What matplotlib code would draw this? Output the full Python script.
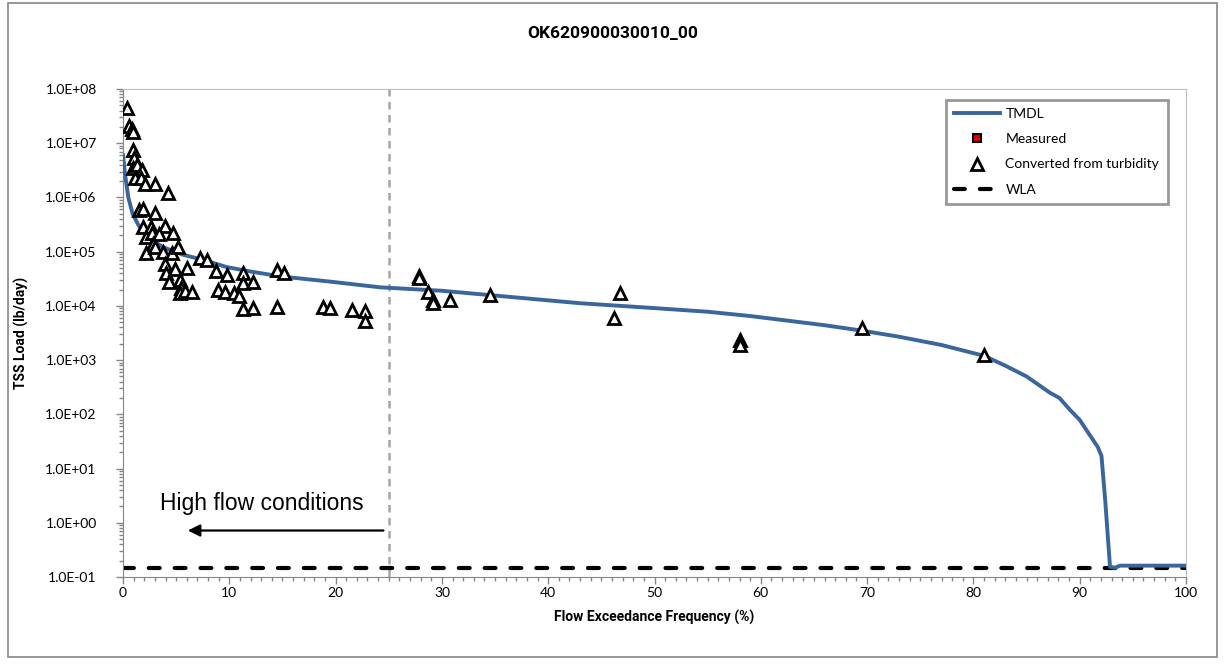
import numpy as np
import matplotlib
matplotlib.use("Agg")
import matplotlib.pyplot as plt
from matplotlib.ticker import FixedLocator, FuncFormatter, MultipleLocator
from matplotlib.patches import Rectangle

plt.rcParams['font.family'] = ['Lato', 'DejaVu Sans']
negrito = ['Roboto', 'DejaVu Sans']

############ DATA
titulo = "OK620900030010_00"

# TMDL curve
tmdl_x = [0, 0.2, 0.5, 0.9, 1.45, 2.2, 3.8, 5.7, 7.5, 9.75, 12, 14.8, 19.5, 24.2,
          30, 35, 43, 50, 55, 59, 62, 66, 69.5, 73, 77, 81, 83, 85, 87.2, 88.1,
          89.1, 90, 91, 91.7, 92.05, 92.4, 92.85, 93.3, 93.8, 100]
tmdl_y = [6.0e6, 2.6e6, 1.0e6, 5.0e5, 3.1e5, 1.9e5, 1.2e5, 8.7e4, 7.1e4, 5.2e4,
          4.3e4, 3.5e4, 2.8e4, 2.2e4, 1.9e4, 1.55e4, 1.12e4, 9.1e3, 7.8e3, 6.5e3,
          5.5e3, 4.4e3, 3.5e3, 2.7e3, 1.9e3, 1.2e3, 7.9e2, 5.0e2, 2.5e2, 2.0e2,
          1.2e2, 79, 40, 25, 17, 2.6, 0.155, 0.148, 0.162, 0.162]

# converted from turbidity
turb_x = [0.35, 0.6, 0.85, 0.9, 0.97, 1.03, 0.9, 1.35, 1.76, 1.13, 1.66, 2.07, 3.0, 4.26,
          1.54, 1.91, 3.0, 1.91, 2.6, 3.95, 2.2, 2.7, 3.4, 4.67, 2.85, 2.2, 3.0, 3.8,
          4.58, 5.2, 3.95, 4.05, 4.9, 6.0, 4.35, 5.36, 5.5, 5.4, 5.8, 6.46, 7.2, 7.9,
          8.75, 8.97, 9.6, 9.8, 10.4, 10.9, 11.26, 11.26, 12.2, 11.26, 12.26, 14.46,
          15.1, 14.46, 18.8, 19.5, 21.5, 22.8, 22.8, 27.8, 27.8, 28.7, 29.2, 29.2,
          30.8, 34.5, 46.8, 46.2, 58.0, 58.0, 69.5, 81.0]
turb_y = [4.4e7, 2.1e7, 1.8e7, 1.6e7, 7.4e6, 5.3e6, 3.5e6, 4.0e6, 3.2e6, 2.3e6, 2.3e6,
          1.8e6, 1.8e6, 1.2e6, 5.9e5, 6.0e5, 5.2e5, 2.9e5, 2.9e5, 3.0e5, 1.9e5, 2.2e5,
          2.1e5, 2.2e5, 1.4e5, 9.5e4, 1.2e5, 1.0e5, 9.3e4, 1.2e5, 6.0e4, 4.0e4, 4.8e4,
          5.1e4, 2.7e4, 3.0e4, 2.1e4, 1.7e4, 1.9e4, 1.8e4, 7.6e4, 7.0e4, 4.4e4, 2.0e4,
          1.8e4, 3.7e4, 1.7e4, 1.5e4, 4.0e4, 2.6e4, 2.8e4, 8.9e3, 9.3e3, 4.5e4, 4.0e4,
          9.5e3, 9.5e3, 9.2e3, 8.5e3, 8.0e3, 5.2e3, 3.5e4, 3.2e4, 1.8e4, 1.3e4, 1.15e4,
          1.3e4, 1.6e4, 1.7e4, 5.9e3, 2.3e3, 1.9e3, 3.9e3, 1.25e3]

# measured (no samples in this chart)
medido_x = []
medido_y = []

wla = 0.145
limite_alto = 25

############ FIGURA
fig = plt.figure(figsize=(12.25, 6.64), dpi=100)
ax = fig.add_axes([123/1225, 1-577/664, (1186-123)/1225, (577-89)/664])

# moldura do grafico
fig.patches.append(Rectangle((8/1225, 1-657/664), (1217-8)/1225, (657-3)/664,
                             transform=fig.transFigure, fill=False,
                             edgecolor='#868686', lw=1.2))

ax.plot(tmdl_x, tmdl_y, color='#3A669C', lw=2.8, label='TMDL', zorder=3)
ax.plot(medido_x, medido_y, ls='none', marker='s', ms=6, mfc='#E00000',
        mec='black', mew=1.5, label='Measured')
ax.plot(turb_x, turb_y, ls='none', marker='^', ms=9, mfc='white',
        mec='black', mew=2, label='Converted from turbidity', zorder=4)
ax.plot([0, 100], [wla, wla], color='black', lw=3, ls=(0, (2.6, 3.6)),
        dash_capstyle='round', label='WLA', zorder=2)

ax.axvline(limite_alto, color='#A6A6A6', lw=1.8, ls=(0, (3, 2.2)), zorder=1)

ax.annotate('', xy=(6.1, 0.72), xytext=(24.5, 0.72),
            arrowprops=dict(arrowstyle='-|>', color='black', lw=1.6,
                            mutation_scale=18, shrinkA=0, shrinkB=0))
ax.text(3.5, 2.3, 'High flow conditions', fontsize=16.5,
        family=['Liberation Sans', 'DejaVu Sans'], va='center', ha='left')

ax.set_yscale('log')
ax.set_ylim(1e-1, 1e8)
ax.set_xlim(0, 100)

ax.xaxis.set_major_locator(MultipleLocator(10))
ax.xaxis.set_minor_locator(MultipleLocator(1))
ax.yaxis.set_major_locator(FixedLocator([10.0**k for k in range(-1, 9)]))
minors = [m * 10.0**k for k in range(-1, 8) for m in range(2, 10)]
ax.yaxis.set_minor_locator(FixedLocator(minors))
ax.yaxis.set_major_formatter(FuncFormatter(lambda v, p: f"{v:.1E}"))
ax.yaxis.set_minor_formatter(FuncFormatter(lambda v, p: ""))

ax.tick_params(which='major', direction='out', length=5, width=1, color='#868686',
               labelsize=10)
ax.tick_params(axis='y', which='major', pad=14)
ax.tick_params(axis='x', which='major', pad=2)
ax.tick_params(which='minor', direction='out', length=3, width=1, color='#868686')

for s in ['left', 'bottom']:
    ax.spines[s].set_color('#868686')
for s in ['top', 'right']:
    ax.spines[s].set_color('#BFBFBF')

ax.set_xlabel('Flow Exceedance Frequency (%)', fontsize=10, fontweight='bold',
              family=negrito, labelpad=8)
ax.set_ylabel('TSS Load (lb/day)', fontsize=10, fontweight='bold',
              family=negrito, labelpad=12)
fig.text(0.5, 1-33/664, titulo, ha='center', va='center', fontsize=12.5,
         fontweight='bold', family=negrito)

leg = ax.legend(loc='upper left', bbox_to_anchor=(0.774, 0.978), fontsize=10,
                frameon=True, fancybox=False, handlelength=3.3, handletextpad=0.4,
                labelspacing=0.95, borderpad=0.6, borderaxespad=0)
leg.get_frame().set_edgecolor('#808080')
leg.get_frame().set_linewidth(2)

fig.savefig('out.png', dpi=100)
